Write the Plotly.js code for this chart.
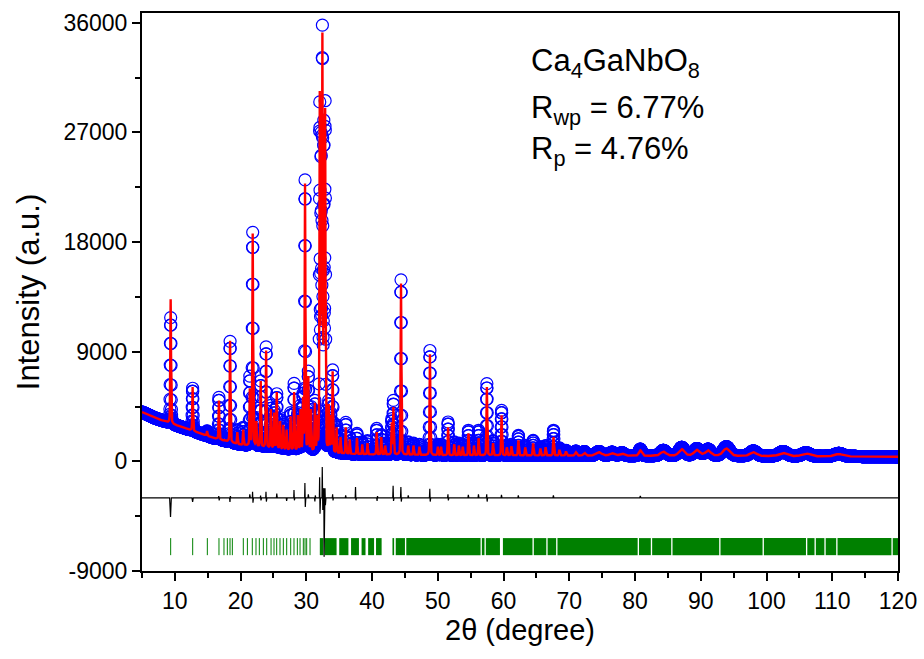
<!DOCTYPE html>
<html><head><meta charset="utf-8">
<script src="https://cdn.plot.ly/plotly-3.0.1.min.js"></script>
<style>html,body{margin:0;padding:0;background:#fff}#chart{width:924px;height:659px}</style>
</head><body><div id="chart"></div>
<script>
// ---- background (2θ, counts) ----
const bgAngle  = [5, 7, 10, 13, 16, 20, 25, 30, 35, 40, 50, 60, 70, 80, 90, 100, 110, 120];
const bgCounts = [4050, 3550, 3000, 2450, 1900, 1350, 1050, 800, 620, 560, 500, 480, 470, 450, 450, 420, 400, 380];

const peakPos = [
  9.36, 12.70, 14.90, 16.70, 18.40, 19.50, 20.40, 21.40, 21.84, 22.40, 23.06, 23.88, 24.60, 25.10, 25.50, 26.00,
  26.50, 27.00, 27.60, 28.14, 28.70, 29.10, 29.50, 29.80, 30.30, 30.70, 31.30, 31.64,
  32.04, 32.24, 32.44, 32.66, 32.86, 33.40, 33.70, 34.00, 34.60, 35.20, 36.00, 36.60, 37.70, 38.50, 39.30,
  40.70, 41.40, 42.00, 43.00, 43.24, 44.40, 45.50, 46.30, 47.20, 48.80, 50.00, 50.50, 51.56, 52.50, 53.20,
  53.80, 54.66, 55.50, 56.20, 57.46, 58.40, 59.70, 60.50, 61.20, 62.26, 63.30, 64.50, 65.60, 66.40, 67.60,
  68.50, 69.50, 71.00, 72.30, 74.50, 76.50, 78.00, 80.80, 84.30, 87.10, 89.40, 91.10, 93.90, 98.00, 102.50, 106.00, 111.00];
const peakObs = [
  11800, 6000, 2500, 5250, 9850, 2600, 2800, 7000, 18800, 3600, 6600, 9400, 4600, 4200, 5550, 3600,
  3200, 2800, 4000, 6400, 4000, 4600, 5600, 23100, 7400, 4500, 5000, 4000,
  29500, 27000, 35800, 28000, 29600, 5000, 4000, 7500, 3000, 2200, 3200, 2000, 2300, 1600, 1700,
  2700, 2200, 1500, 3500, 5000, 14900, 1600, 1500, 1400, 9100, 1400, 1400, 3230, 1600, 1500,
  1400, 2550, 1500, 2550, 6380, 1700, 4190, 1300, 1400, 2130, 1300, 1720, 1200, 1300, 2550,
  1100, 900, 850, 800, 800, 750, 700, 1000, 900, 1150, 1050, 1000, 1200, 850, 800, 700, 650];
const peakCalc = [
  13300, 6100, 2500, 5000, 9900, 2400, 2600, 6000, 18700, 3300, 6600, 9100, 4300, 4000, 5700, 3300,
  3000, 2600, 3700, 5700, 3800, 4300, 5300, 22800, 7000, 4300, 4800, 3800,
  30400, 28000, 35200, 28500, 29000, 4700, 3800, 7400, 2800, 2000, 2800, 1800, 1900, 1400, 1500,
  2400, 2000, 1300, 3200, 4460, 14600, 1300, 1300, 1200, 8800, 1200, 1200, 2800, 1400, 1300,
  1200, 2300, 1300, 1900, 6100, 1500, 3780, 1150, 1250, 1720, 1150, 1480, 1050, 1150, 2000,
  950, 800, 750, 700, 750, 680, 650, 900, 800, 1000, 950, 900, 1050, 750, 700, 650, 600];
const peakFwhm = [
  0.13, 0.13, 0.13, 0.13, 0.13, 0.13, 0.13, 0.13, 0.13, 0.13, 0.13, 0.13, 0.13, 0.13, 0.13, 0.13,
  0.13, 0.13, 0.13, 0.13, 0.13, 0.13, 0.13, 0.13, 0.13, 0.13, 0.13, 0.13,
  0.12, 0.12, 0.12, 0.12, 0.12, 0.13, 0.13, 0.13, 0.13, 0.13, 0.13, 0.13, 0.13, 0.13, 0.13,
  0.13, 0.13, 0.13, 0.13, 0.13, 0.13, 0.14, 0.14, 0.14, 0.14, 0.14, 0.14, 0.14, 0.14, 0.14,
  0.14, 0.14, 0.14, 0.14, 0.14, 0.15, 0.15, 0.16, 0.16, 0.16, 0.16, 0.16, 0.16, 0.16, 0.16,
  0.18, 0.2, 0.3, 0.4, 1.0, 0.8, 0.8, 0.5, 1.0, 1.0, 1.0, 1.0, 1.2, 1.2, 1.4, 1.4, 1.5];
const lorentzFraction = 0.3;

// ---- difference curve (Yobs - Ycalc) ----
const diffAngle = [5, 9.20, 9.34, 9.46, 12.60, 12.70, 12.80, 16.62, 16.68, 16.74, 16.82, 18.32, 18.38, 18.44, 18.52,
  21.34, 21.40, 21.48, 21.78, 21.82, 21.88, 21.96, 23.00, 23.04, 23.10, 23.18, 23.82, 23.86, 23.92, 24.00,
  25.44, 25.50, 25.58, 26.94, 27.00, 27.08, 28.08, 28.12, 28.18, 28.26, 29.74, 29.78, 29.84, 29.92,
  30.24, 30.30, 30.38, 31.24, 31.30, 31.36, 31.44, 31.98, 32.02, 32.08, 32.16, 32.38, 32.42, 32.50, 32.58,
  32.66, 32.70, 32.76, 32.84, 32.90, 32.98, 33.94, 34.00, 34.06, 34.12, 35.92, 35.98, 36.06,
  37.42, 37.48, 37.54, 37.62, 40.70, 40.76, 40.82, 40.90, 43.14, 43.20, 43.26, 43.34, 44.32, 44.38, 44.44, 44.52,
  45.44, 45.50, 45.58, 48.72, 48.78, 48.84, 48.92, 51.48, 51.54, 51.60, 51.68, 54.58, 54.64, 54.72,
  56.12, 56.18, 56.26, 57.38, 57.44, 57.50, 57.58, 59.62, 59.68, 59.76, 62.18, 62.24, 62.32, 67.50, 67.58, 67.66,
  80.7, 80.8, 80.9, 120];
const diffResidual = [0, 0, -1560, 0, 0, -330, 0, 0, 150, -200, 0, 0, -330, 150, 0,
  0, 300, 0, 0, 500, -400, 0, 0, 200, -200, 0, 0, 500, -300, 0,
  0, 350, 0, 0, -250, 0, 0, 640, -200, 0, 0, 1230, -740, 0,
  0, 300, 0, 0, -300, 200, 0, 0, 1700, -1300, 0, 0, 2540, -1000, 0,
  800, -4840, 0, 800, -600, 0, 0, 300, -200, 0, 0, 200, 0,
  0, 900, -200, 0, 0, -250, 150, 0, 0, 1000, -250, 0, 0, 900, -300, 0,
  0, 200, 0, 0, 740, -300, 0, 0, 300, -200, 0, 0, 250, 0,
  0, 300, 0, 0, 300, -300, 0, 0, 250, 0, 0, 200, 0, 0, 200, 0,
  0, 150, 0, 0];

// ---- Bragg reflection positions ----
const braggSingle = [9.36, 12.71, 14.94, 16.71, 17.47, 17.98, 18.39, 18.74, 20.41, 21.03, 21.78, 22.34, 22.85, 23.46,
  23.97, 24.63, 25.08, 25.49, 25.99, 26.50, 27.01, 27.62, 28.12, 28.63, 29.04, 29.54, 29.80, 30.05, 30.56];
const braggBandStart = [32.05, 32.8, 35.0, 36.8, 38.4, 39.4, 40.6, 43.1, 43.6, 45.2, 56.7, 57.3, 59.9, 64.6, 66.7, 68.2,
  80.6, 82.6, 85.7, 93.0, 99.6, 106.2, 107.5, 109.0, 110.8, 119.2];
const braggBandEnd   = [32.6, 34.6, 36.4, 38.0, 39.0, 40.3, 41.45, 43.35, 45.0, 56.5, 57.1, 59.45, 64.4, 66.5, 68.0, 80.4,
  82.4, 85.5, 92.8, 99.4, 106.0, 107.3, 108.8, 110.6, 119.0, 120.0];

const xTickVals = [10, 20, 30, 40, 50, 60, 70, 80, 90, 100, 110, 120];
const xTickText = ['10', '20', '30', '40', '50', '60', '70', '80', '90', '100', '110', '120'];
const yTickVals = [-9000, 0, 9000, 18000, 27000, 36000];
const yTickText = ['-9000', '0', '9000', '18000', '27000', '36000'];

// ---- plotting constants (positions / styles) ----
const diffOffset = -3000, braggLow = -7700, braggHigh = -6300;
const stepDeg = 0.02;

function bgAt(t) {
  for (let i = 0; i < bgAngle.length - 1; i++) {
    if (t <= bgAngle[i + 1]) {
      const f = (t - bgAngle[i]) / (bgAngle[i + 1] - bgAngle[i]);
      return bgCounts[i] + f * (bgCounts[i + 1] - bgCounts[i]);
    }
  }
  return bgCounts[bgCounts.length - 1];
}
// pseudo-Voigt peak profile
function shape(d, w) {
  const u = d / (w / 2);
  if (Math.abs(u) > 60) return 0;
  return lorentzFraction / (1 + u * u) + (1 - lorentzFraction) * Math.exp(-Math.LN2 * u * u);
}

// amplitudes so that the profile tops equal the read-off tops (overlap taken into account)
function solveAmps(tops) {
  const n = peakPos.length;
  const M = [], r = [];
  for (let i = 0; i < n; i++) {
    M.push(peakPos.map((p, j) => shape(peakPos[i] - p, peakFwhm[j])));
    r.push(tops[i] - bgAt(peakPos[i]));
  }
  for (let c = 0; c < n; c++) {
    let piv = c;
    for (let i = c + 1; i < n; i++) if (Math.abs(M[i][c]) > Math.abs(M[piv][c])) piv = i;
    [M[c], M[piv]] = [M[piv], M[c]]; [r[c], r[piv]] = [r[piv], r[c]];
    for (let i = c + 1; i < n; i++) {
      const f = M[i][c] / M[c][c];
      if (!f) continue;
      for (let j = c; j < n; j++) M[i][j] -= f * M[c][j];
      r[i] -= f * r[c];
    }
  }
  const a = new Array(n).fill(0);
  for (let i = n - 1; i >= 0; i--) {
    let s = r[i];
    for (let j = i + 1; j < n; j++) s -= M[i][j] * a[j];
    a[i] = Math.max(0, s / M[i][i]);
  }
  return a;
}
const ampObs = solveAmps(peakObs), ampCalc = solveAmps(peakCalc);

const tt = [], yObs = [], yCalc = [];
const nPts = Math.round((120 - 5) / stepDeg);
for (let i = 0; i <= nPts; i++) {
  const t = +(5 + i * stepDeg).toFixed(2);
  let o = bgAt(t), c = o;
  for (let k = 0; k < peakPos.length; k++) {
    const s = shape(t - peakPos[k], peakFwhm[k]);
    if (!s) continue;
    o += ampObs[k] * s;
    c += ampCalc[k] * s;
  }
  tt.push(t); yObs.push(o); yCalc.push(c);
}

const braggX = [], braggY = [];
braggSingle.forEach(p => { braggX.push(p, p, null); braggY.push(braggLow, braggHigh, null); });

const font = 'Liberation Sans, Arial, sans-serif';

const traces = [
  { x: tt, y: yObs, type: 'scatter', mode: 'markers', name: 'Yobs',
    marker: { symbol: 'circle-open', size: 12, color: '#0000ff', line: { width: 1.2, color: '#0000ff' } } },
  { x: tt, y: yCalc, type: 'scatter', mode: 'lines', name: 'Ycalc', line: { color: '#ff0000', width: 2.4 } },
  { x: diffAngle, y: diffResidual.map(v => v + diffOffset), type: 'scatter', mode: 'lines', name: 'Diff',
    line: { color: '#000000', width: 1.2 } },
  { x: braggX, y: braggY, type: 'scatter', mode: 'lines', name: 'Bragg', line: { color: '#008000', width: 1 } },
  { x: braggBandStart.map((a, i) => (a + braggBandEnd[i]) / 2), y: braggBandStart.map(() => braggHigh - braggLow),
    base: braggLow, width: braggBandStart.map((a, i) => braggBandEnd[i] - a), type: 'bar', name: 'Bragg band',
    marker: { color: '#008000', line: { width: 0 } } }
];

const axisCommon = { showline: true, linewidth: 2, linecolor: '#000', mirror: true, ticks: 'outside', ticklen: 8,
  tickwidth: 2, tickcolor: '#000', showgrid: false, zeroline: false,
  tickfont: { family: font, size: 23, color: '#000' } };

const layout = {
  width: 924, height: 659, showlegend: false, barmode: 'overlay',
  paper_bgcolor: '#fff', plot_bgcolor: '#fff',
  margin: { l: 142, r: 26, t: 13, b: 88 },
  xaxis: Object.assign({}, axisCommon, { range: [5, 120], tickmode: 'array', tickvals: xTickVals, ticktext: xTickText,
    minor: { tickmode: 'array', tickvals: [5, 15, 25, 35, 45, 55, 65, 75, 85, 95, 105, 115], ticks: 'outside', ticklen: 5, tickwidth: 2, tickcolor: '#000' },
    title: { text: '2θ (degree)', font: { family: font, size: 29, color: '#000' }, standoff: 6 } }),
  yaxis: Object.assign({}, axisCommon, { range: [-9000, 36800], tickmode: 'array', tickvals: yTickVals, ticktext: yTickText,
    minor: { tickmode: 'array', tickvals: [-4500, 4500, 13500, 22500, 31500], ticks: 'outside', ticklen: 5, tickwidth: 2, tickcolor: '#000' },
    title: { text: 'Intensity (a.u.)', font: { family: font, size: 31, color: '#000' }, standoff: 15 } }),
  annotations: [
    { text: 'Ca<sub>4</sub>GaNbO<sub>8</sub>', x: 63.8, y: 32700 },
    { text: 'R<sub>wp</sub> = 6.77%', x: 63.8, y: 28800 },
    { text: 'R<sub>p</sub> = 4.76%', x: 63.8, y: 25450 }
  ].map(a => Object.assign(a, { xref: 'x', yref: 'y', xanchor: 'left', yanchor: 'middle', showarrow: false,
    font: { family: font, size: 31, color: '#000' } }))
};

Plotly.newPlot('chart', traces, layout, { displayModeBar: false, staticPlot: true });
</script></body></html>
